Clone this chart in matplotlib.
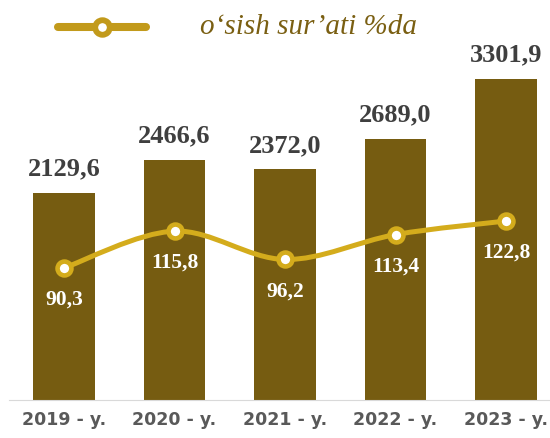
import numpy as np
import matplotlib.pyplot as plt
from matplotlib.path import Path
from matplotlib.patches import PathPatch
from matplotlib.lines import Line2D

# data
years = ['2019 - y.', '2020 - y.', '2021 - y.', '2022 - y.', '2023 - y.']
volume = [2129.6, 2466.6, 2372.0, 2689.0, 3301.9]
growth = [90.3, 115.8, 96.2, 113.4, 122.8]
legend_text = 'o‘sish sur’ati %da'

bar_color = '#765C11'
line_color = '#D4AC1C'

W, H = 550, 438
fig = plt.figure(figsize=(W / 100, H / 100), dpi=100)
ax = fig.add_axes([8.75 / W, 38 / H, 552.5 / W, 380 / H])
ax2 = ax.twinx()

x = np.arange(len(years))
ax.bar(x, volume, width=0.56, color=bar_color, zorder=2)
ax.set_xlim(-0.5, len(years) - 0.5)
ax.set_ylim(0, 380 / 0.0972)

for xi, v in zip(x, volume):
    ax.annotate(f'{v:.1f}'.replace('.', ','), (xi, v), xytext=(0, 9), textcoords='offset points',
                ha='center', va='bottom', fontsize=19, fontweight='bold',
                family='Liberation Serif', color='#3F3F3F')

# smoothed line like Excel (Catmull-Rom as bezier segments)
ax2.set_ylim(90.3 - 132 / 1.446, 90.3 - 132 / 1.446 + 380 / 1.446)
pts = np.column_stack([x, growth]).astype(float)
verts = [pts[0]]
codes = [Path.MOVETO]
for i in range(len(pts) - 1):
    p0 = pts[max(i - 1, 0)]
    p1 = pts[i]
    p2 = pts[i + 1]
    p3 = pts[min(i + 2, len(pts) - 1)]
    c1 = p1 + (p2 - p0) / 6
    c2 = p2 - (p3 - p1) / 6
    verts += [c1, c2, p2]
    codes += [Path.CURVE4] * 3
ax2.add_patch(PathPatch(Path(verts, codes), fill=False, edgecolor=line_color, lw=3.6,
                        capstyle='round', zorder=3))
ax2.plot(x, growth, ls='none', marker='o', ms=10, mfc='white', mec=line_color, mew=3.3, zorder=4)

for xi, v in zip(x, growth):
    ax2.annotate(f'{v:.1f}'.replace('.', ','), (xi, v), xytext=(0, -23), textcoords='offset points',
                 ha='center', va='center', fontsize=15.5, fontweight='bold',
                 family='Liberation Serif', color='white', zorder=5)

for a in (ax, ax2):
    a.set_yticks([])
    for s in ('top', 'right', 'left'):
        a.spines[s].set_visible(False)
ax2.spines['bottom'].set_visible(False)
ax.spines['bottom'].set_color('#D9D9D9')
ax.set_xticks(x)
ax.set_xticklabels(years, fontsize=12.5, fontweight='bold', color='#595959', family='DejaVu Sans')
ax.tick_params(axis='x', length=0, pad=8)

# legend entry at the top
fig.add_artist(Line2D([58 / W, 146 / W], [1 - 27 / H] * 2, color='#C29A1B', lw=5.8,
                      solid_capstyle='round'))
fig.add_artist(Line2D([102 / W], [1 - 27 / H], marker='o', ms=10.5, mfc='white', mec='#C29A1B', mew=4.2))
fig.text(200 / W, 1 - 27 / H, legend_text, ha='left', va='center', fontsize=21, style='italic',
         family='Liberation Serif', color='#7A5F12')

fig.savefig('out.png', dpi=100)
